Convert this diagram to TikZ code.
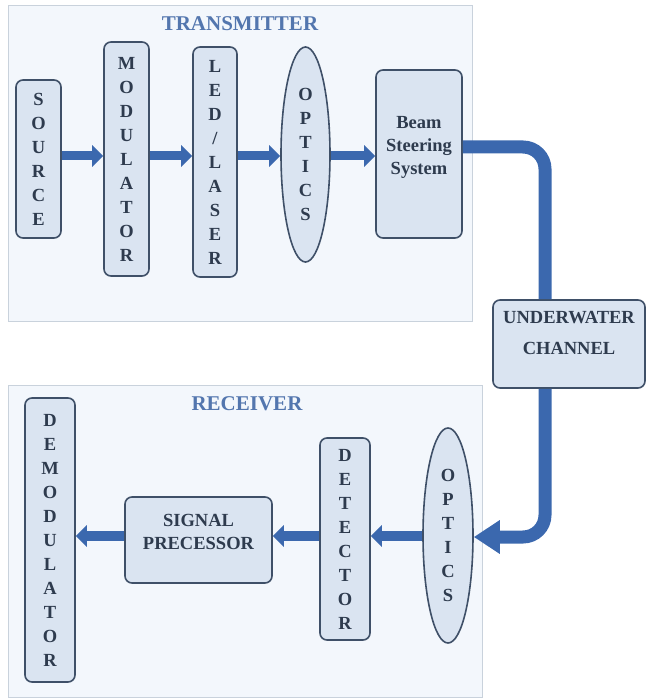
\documentclass[tikz,border=0pt]{standalone}
\usepackage{fontspec}
\setmainfont{Liberation Serif}
\usetikzlibrary{shapes.geometric,arrows.meta}
\definecolor{panelfill}{HTML}{F3F7FC}
\definecolor{paneledge}{HTML}{C9D2DC}
\definecolor{boxfill}{HTML}{DAE4F1}
\definecolor{boxedge}{HTML}{3F5068}
\definecolor{flow}{HTML}{3B68AE}
\definecolor{txt}{HTML}{2E3B4E}
\definecolor{title}{HTML}{5376AE}

\begin{document}
\begin{tikzpicture}[x=1pt,y=-1pt]
        \tikzstyle{panel}=[draw=paneledge,fill=panelfill,line width=0.6pt,inner sep=0pt]
        \tikzstyle{block}=[draw=boxedge,fill=boxfill,line width=1.6pt,rounded corners=7pt,inner sep=0pt,align=center,text=txt,font=\bfseries\fontsize{18.5}{24}\selectfont]
        \tikzstyle{lens}=[block,ellipse,rounded corners=0pt]
        \tikzstyle{heading}=[text=title,font=\bfseries\fontsize{21}{24}\selectfont]
        \tikzstyle{flowarrow}=[flow,line width=9pt,-{Triangle[length=11pt,width=21pt]}]
        \tikzstyle{pipe}=[flow,line width=13pt,rounded corners=22pt]
        \useasboundingbox (0,0) rectangle (647,700);
        % transmitter side
        \node[panel,minimum width=464pt,minimum height=316pt] (tx) at (240,163) {};
        \node[heading] (txtitle) at (240,24) {TRANSMITTER};
        \node[block,minimum width=45pt,minimum height=158pt] (src) at (38.5,159) {S\\O\\U\\R\\C\\E};
        \node[block,minimum width=45pt,minimum height=234pt] (mod) at (126.5,159) {M\\O\\D\\U\\L\\A\\T\\O\\R};
        \node[block,minimum width=44pt,minimum height=230pt] (led) at (215,162) {L\\E\\D\\/\\L\\A\\S\\E\\R};
        \node[lens,minimum width=49pt,minimum height=215pt] (topt) at (305.5,154.5) {O\\P\\T\\I\\C\\S};
        \node[block,minimum width=86pt,minimum height=168pt] (beam) at (419,154) {Beam\\[-1pt]Steering\\[-1pt]System\\[-6pt]};
        \draw[flowarrow] (src.east |- 0,156) -- (mod.west |- 0,156);
        \draw[flowarrow] (mod.east |- 0,156) -- (led.west |- 0,156);
        \draw[flowarrow] (led.east |- 0,156) -- (topt.west |- 0,156);
        \draw[flowarrow] (topt.east |- 0,156) -- (beam.west |- 0,156);
        % receiver side
        \node[panel,minimum width=474pt,minimum height=312pt] (rx) at (245,541) {};
        \node[heading] (rxtitle) at (247,404) {RECEIVER};
        \node[block,minimum width=50pt,minimum height=284pt] (demod) at (50,540) {D\\E\\M\\O\\D\\U\\L\\A\\T\\O\\R};
        \node[block,minimum width=147pt,minimum height=86pt] (sigp) at (198.5,540) {SIGNAL\\[-1pt]PRECESSOR\\[-8pt]};
        \node[block,minimum width=50pt,minimum height=202pt] (det) at (345,539) {D\\E\\T\\E\\C\\T\\O\\R};
        \node[lens,minimum width=50pt,minimum height=215pt] (ropt) at (448,535.5) {O\\P\\T\\I\\C\\S};
        \draw[flowarrow,line width=10pt] (ropt.west |- 0,536) -- (det.east |- 0,536);
        \draw[flowarrow,line width=10pt] (det.west |- 0,536) -- (sigp.east |- 0,536);
        \draw[flowarrow,line width=10pt] (sigp.west |- 0,536) -- (demod.east |- 0,536);
        % channel
        \node[block,minimum width=152pt,minimum height=88pt] (chan) at (569,344) {UNDERWATER\\[7pt]CHANNEL\\[-2pt]};
        \draw[pipe] ([yshift=7pt]beam.east) -| ([xshift=-24pt]chan.north);
        \draw[pipe,-{Triangle[length=26pt,width=32pt]}] ([xshift=-24pt]chan.south) |- (ropt.east |- 0,537);
\end{tikzpicture}
\end{document}
